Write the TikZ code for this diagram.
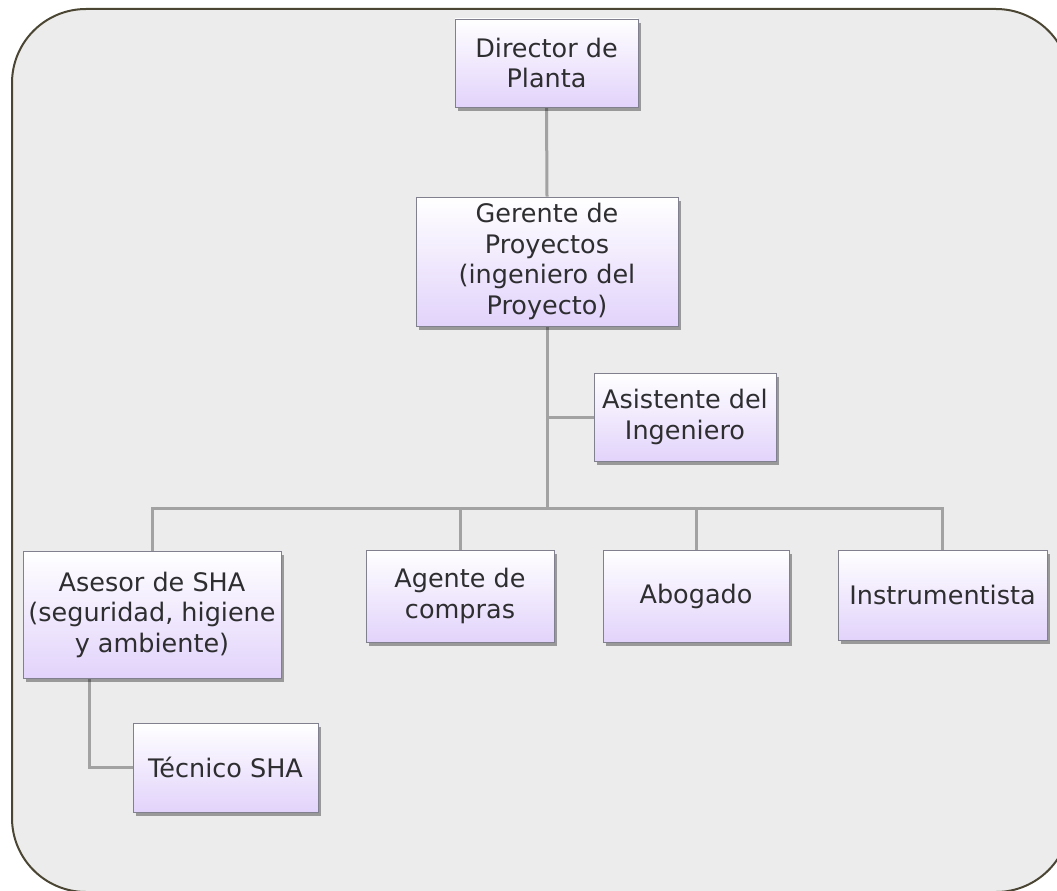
\documentclass[tikz,border=0pt]{standalone}
\usepackage{fontspec}
\setmainfont{DejaVu Sans}
\usetikzlibrary{shadows}
\pgfdeclarelayer{panel}
\pgfdeclarelayer{links}
\pgfsetlayers{panel,links,main}
\definecolor{framecol}{HTML}{4B4633}
\definecolor{panelbg}{HTML}{ECECEC}
\definecolor{linkcol}{HTML}{A2A2A2}
\definecolor{boxedge}{HTML}{80808E}
\definecolor{boxlow}{HTML}{E2D3FB}
\definecolor{txtcol}{HTML}{2E2E30}
\tikzset{
  orgbox/.style={draw=boxedge, line width=0.8pt, top color=white, bottom color=boxlow,
    align=center, inner sep=2pt, text=txtcol,
    font=\fontsize{25.5}{30.5}\selectfont,
    drop shadow={shadow xshift=3pt, shadow yshift=-4pt, fill=black, opacity=0.35}},
  link/.style={draw=linkcol, line width=3pt},
}
\begin{document}
\begin{tikzpicture}[x=1pt, y=-1pt]
\useasboundingbox (0,0) rectangle (1057,891);

% boxes
\node[orgbox, minimum width=183pt, minimum height=88pt] (dir) at (546.5,63) {Director de\\Planta};
\node[orgbox, minimum width=262pt, minimum height=129pt] (ger) at (547,261.5) {Gerente de\\Proyectos\\(ingeniero del\\Proyecto)};
\node[orgbox, minimum width=182pt, minimum height=88pt] (asis) at (685,417) {Asistente del\\Ingeniero};
\node[orgbox, minimum width=258pt, minimum height=127pt] (ases) at (152,614.5) {Asesor de SHA\\(seguridad, higiene\\y ambiente)};
\node[orgbox, minimum width=185pt, minimum height=89pt] (tec) at (225.5,767.5) {Técnico SHA};
\node[orgbox, minimum width=188pt, minimum height=92pt] (agen) at (460,596) {Agente de\\compras};
\node[orgbox, minimum width=186pt, minimum height=92pt] (abog) at (696,596) {Abogado};
\node[orgbox, minimum width=209pt, minimum height=90pt] (inst) at (942.5,595) {Instrumentista};

% bus level and elbow joint
\coordinate (bus) at (547,508);
\coordinate (tj) at (89,767.5);

\begin{pgfonlayer}{links}
  \draw[link] (dir.south) -- (ger.north);
  \draw[link] (ger.south) -- (bus);
  \draw[link] (ger.south |- asis.west) -- (asis.west);
  \draw[link] (ases.north) -- (ases.north |- bus) -- (inst.north |- bus) -- (inst.north);
  \draw[link] (agen.north |- bus) -- (agen.north);
  \draw[link] (abog.north |- bus) -- (abog.north);
  \draw[link] (ases.south -| tj) -- (tj) -- (tec.west);
\end{pgfonlayer}

\begin{pgfonlayer}{panel}
  \draw[draw=framecol, fill=panelbg, line width=2pt, rounded corners=74pt] (12,9) rectangle (1070,892);
\end{pgfonlayer}
\end{tikzpicture}
\end{document}
